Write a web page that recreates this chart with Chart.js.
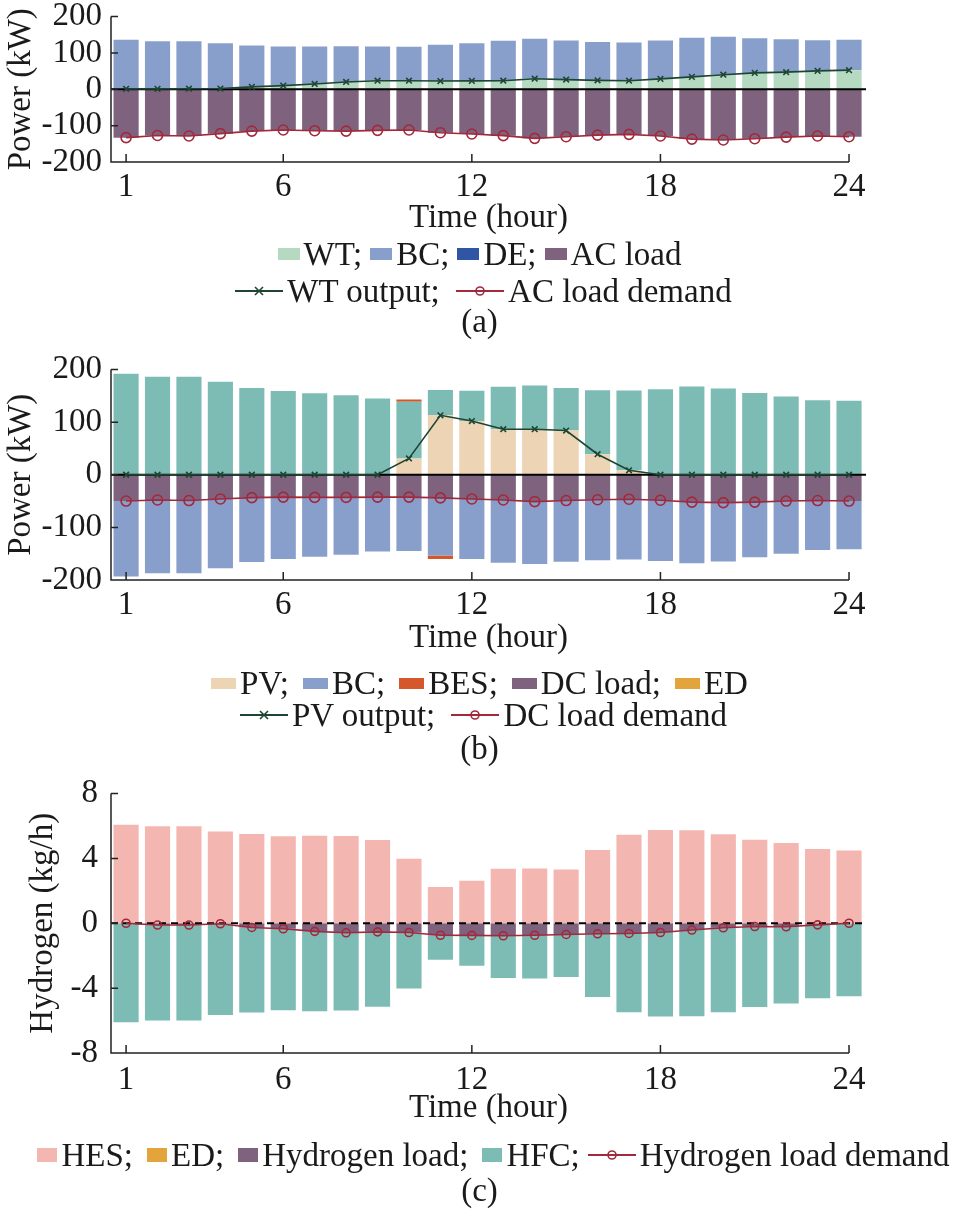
<!DOCTYPE html>
<html>
<head>
<meta charset="utf-8">
<script src="https://cdn.jsdelivr.net/npm/chart.js@4.4.1/dist/chart.umd.min.js"></script>
<style>
  body { margin: 0; width: 959px; height: 1218px; position: relative; overflow: hidden; background: #fff;
         font-family: "Liberation Serif", "Times New Roman", serif; color: #1a1a1a; }
  canvas { position: absolute; left: 0; }
  .leg { position: absolute; left: 0; width: 959px; text-align: center; font-size: 33px; line-height: 36px; white-space: nowrap; }
  .sw { display: inline-block; vertical-align: middle; position: relative; top: -3px; margin-right: 4px; }
  .ln { display: inline-block; vertical-align: middle; position: relative; top: -3px; margin: 0 4px 0 8px; }
</style>
</head>
<body>
<canvas id="chartA" width="959" height="249" style="top:-9px"></canvas>
<div class="leg" id="legA1" style="top:236px"></div>
<div class="leg" id="legA2" style="top:273px"></div>
<div class="leg" style="top:303px">(a)</div>

<canvas id="chartB" width="959" height="316" style="top:344px"></canvas>
<div class="leg" id="legB1" style="top:665px"></div>
<div class="leg" id="legB2" style="top:697px"></div>
<div class="leg" style="top:730px">(b)</div>

<canvas id="chartC" width="959" height="366" style="top:764px"></canvas>
<div class="leg" id="legC1" style="top:1137px;left:14px"></div>
<div class="leg" style="top:1172px">(c)</div>

<script>
const hours = [1, 2, 3, 4, 5, 6, 7, 8, 9, 10, 11, 12, 13, 14, 15, 16, 17, 18, 19, 20, 21, 22, 23, 24];
const xTicks = [1, 6, 12, 18, 24];

// (a) AC bus, kW
const wtPower = [1, 1, 1.5, 2, 6.5, 10, 14.5, 20, 23.5, 23.5, 22.5, 23, 23.5, 29, 26.5, 24.5, 23.5, 28.5, 34, 40, 45, 47, 50.5, 52.5];
const bcAc = [135, 131, 130.5, 124.5, 113.5, 107.5, 103, 98.5, 94, 93, 99.5, 103.5, 109.5, 109.5, 107.5, 105.5, 105, 105.5, 107.5, 104, 95.5, 90.5, 84.5, 83.5];
const deAc = [0, 0, 0, 0, 0, 0, 0, 0, 0, 0, 0, 0, 0, 0, 0, 0, 0, 0, 0, 0, 0, 0, 0, 0];
const acDemand = [-133, -127, -128.5, -122, -115, -112, -114, -115, -113, -112, -119.5, -123, -127.5, -135, -130.5, -126, -124, -128.5, -137, -139.5, -136, -131.5, -128.5, -130.5];

// (b) DC bus, kW
const pvPower = [0, 0, 0, 0, 0, 0, 0, 0, 0, 31, 113, 102, 86.5, 86.5, 84, 39, 8.5, 0, 0, 0, 0, 0, 0, 0];
const hfcDc = [192, 186, 186, 176.5, 165, 159, 155, 151, 145, 107.5, 48, 57.5, 80.5, 83, 81, 121.5, 151.5, 162.5, 167.5, 164, 155.5, 148.5, 141.5, 140.5];
const besDc = [0, 0, 0, 0, 0, 0, 0, 0, 0, 4.5, -6.5, 0, 0, 0, 0, 0, 0, 0, 0, 0, 0, 0, 0, 0];
const dcDemand = [-50, -48, -49, -46, -43.5, -42.5, -43, -43, -42.5, -42.5, -44, -46, -48, -51, -49, -47.5, -46.5, -48.5, -52, -53, -52, -50, -49, -50];
const bcDc = [-143.5, -139, -138, -131.5, -122.5, -117.5, -113, -109, -103.5, -102.5, -109.5, -114, -119, -118.5, -116.5, -115, -114.5, -115.5, -116, -112, -105, -100, -94, -91.5];
const edDc = [0, 0, 0, 0, 0, 0, 0, 0, 0, 0, 0, 0, 0, 0, 0, 0, 0, 0, 0, 0, 0, 0, 0, 0];

// (c) hydrogen, kg/h
const hesH2 = [6.08, 5.98, 5.98, 5.65, 5.5, 5.36, 5.4, 5.38, 5.13, 3.98, 2.23, 2.62, 3.36, 3.38, 3.32, 4.52, 5.46, 5.75, 5.73, 5.48, 5.15, 4.95, 4.58, 4.48];
const edH2 = [0, 0, 0, 0, 0, 0, 0, 0, 0, 0, 0, 0, 0, 0, 0, 0, 0, 0, 0, 0, 0, 0, 0, 0];
const h2Demand = [0, -0.11, -0.11, -0.03, -0.26, -0.34, -0.5, -0.59, -0.53, -0.57, -0.74, -0.75, -0.77, -0.74, -0.69, -0.65, -0.63, -0.57, -0.42, -0.28, -0.2, -0.22, -0.1, 0];
const hfcH2 = [-6.1, -5.89, -5.89, -5.62, -5.24, -5.02, -4.92, -4.79, -4.62, -3.45, -1.51, -1.87, -2.61, -2.66, -2.63, -3.89, -4.85, -5.18, -5.31, -5.2, -4.97, -4.73, -4.52, -4.5];

const col = {
  wt: "#b5d9c1", bc: "#889fcb", de: "#2f55a4", load: "#7f627d",
  pv: "#ecd4b5", bes: "#d4582c", ed: "#e3a53b", hfc: "#7dbcb5", hes: "#f4b6b0",
  green: "#1d4533", red: "#a2293c"
};
const serif = "'Liberation Serif', 'Times New Roman', serif";
const ink = "#1a1a1a";

const pts = arr => hours.map((h, i) => ({ x: h, y: arr[i] }));

function bar(label, arr, color) {
  return { type: "bar", label: label, data: pts(arr), backgroundColor: color, borderWidth: 0,
           barPercentage: 1, categoryPercentage: 0.8, order: 1 };
}

function line(label, arr, color, marker, radius) {
  return { type: "line", label: label, data: pts(arr), stack: label, order: 0,
           borderColor: color, borderWidth: 1.6, tension: 0,
           pointStyle: marker, pointRadius: radius, pointBorderColor: color,
           pointBackgroundColor: "rgba(0,0,0,0)", pointBorderWidth: 1.6 };
}

function zeroLine(chart, opts) {
  const { ctx, chartArea, scales: { y } } = chart;
  const py = y.getPixelForValue(0);
  ctx.save();
  ctx.strokeStyle = "#000";
  ctx.lineWidth = 2;
  ctx.setLineDash(opts.dash || []);
  ctx.beginPath();
  ctx.moveTo(chartArea.left, py);
  ctx.lineTo(chartArea.right, py);
  ctx.stroke();
  ctx.restore();
}

// left + bottom spines with inward ticks, zero line under the lines
const frame = {
  id: "frame",
  beforeDatasetsDraw(chart) { chart.$zeroDone = false; },
  beforeDatasetDraw(chart, args, opts) {
    if (!chart.$zeroDone && args.meta.type === "line") {
      zeroLine(chart, opts);
      chart.$zeroDone = true;
    }
  },
  afterDatasetsDraw(chart, args, opts) {
    if (!chart.$zeroDone) zeroLine(chart, opts);
    const { ctx, chartArea, scales: { x, y } } = chart;
    ctx.save();
    ctx.strokeStyle = "#222";
    ctx.lineWidth = 1.5;
    ctx.beginPath();
    ctx.moveTo(chartArea.left, chartArea.top);
    ctx.lineTo(chartArea.left, chartArea.bottom);
    ctx.lineTo(x.getPixelForValue(xTicks[xTicks.length - 1]), chartArea.bottom);
    y.ticks.forEach(t => {
      const py = y.getPixelForValue(t.value);
      ctx.moveTo(chartArea.left, py);
      ctx.lineTo(chartArea.left + 7, py);
    });
    x.ticks.forEach(t => {
      const px = x.getPixelForValue(t.value);
      ctx.moveTo(px, chartArea.bottom);
      ctx.lineTo(px, chartArea.bottom - 8);
    });
    ctx.stroke();
    ctx.restore();
  }
};

function makeChart(id, datasets, s) {
  return new Chart(document.getElementById(id), {
    type: "bar",
    data: { datasets: datasets },
    plugins: [frame],
    options: {
      responsive: false,
      animation: false,
      layout: { padding: { top: 0, right: 93, left: 0, bottom: 0 } },
      plugins: { legend: { display: false }, tooltip: { enabled: false }, frame: { dash: s.dash } },
      scales: {
        x: {
          type: "linear", min: 0.52, max: 24.54, offset: false, stacked: true,
          grid: { display: false, drawTicks: false }, border: { display: false },
          afterBuildTicks: sc => { sc.ticks = xTicks.map(v => ({ value: v })); },
          afterFit: sc => { sc.height = s.xHeight; },
          ticks: { font: { family: serif, size: 33, lineHeight: 1 }, color: ink, padding: s.xPad, maxRotation: 0, autoSkip: false },
          title: { display: true, text: "Time (hour)", font: { family: serif, size: 33 }, color: ink, padding: { top: 0, bottom: 2 } }
        },
        y: {
          min: s.min, max: s.max, stacked: true,
          grid: { display: false, drawTicks: false }, border: { display: false },
          afterFit: sc => { sc.width = 111; },
          ticks: { stepSize: s.step, font: { family: serif, size: 33, lineHeight: 1 }, color: ink, padding: s.yPad },
          title: { display: true, text: s.title, font: { family: serif, size: 33 }, color: ink, padding: { top: s.titlePad, bottom: 0 } }
        }
      }
    }
  });
}

makeChart("chartA", [
  bar("WT", wtPower, col.wt),
  bar("BC", bcAc, col.bc),
  bar("DE", deAc, col.de),
  bar("AC load", acDemand, col.load),
  line("WT output", wtPower, col.green, "crossRot", 4),
  line("AC load demand", acDemand, col.red, "circle", 5)
], { xHeight: 78, xPad: 9, yPad: 9, min: -200, max: 200, step: 100, title: "Power (kW)", titlePad: 2, dash: [] });

makeChart("chartB", [
  bar("PV", pvPower, col.pv),
  bar("HFC", hfcDc, col.hfc),
  bar("DC load", dcDemand, col.load),
  bar("BC", bcDc, col.bc),
  bar("BES", besDc, col.bes),
  bar("ED", edDc, col.ed),
  line("PV output", pvPower, col.green, "crossRot", 4),
  line("DC load demand", dcDemand, col.red, "circle", 5)
], { xHeight: 80, xPad: 9, yPad: 9, min: -200, max: 200, step: 100, title: "Power (kW)", titlePad: 2, dash: [] });

makeChart("chartC", [
  bar("HES", hesH2, col.hes),
  bar("ED", edH2, col.ed),
  bar("Hydrogen load", h2Demand, col.load),
  bar("HFC", hfcH2, col.hfc),
  line("Hydrogen load demand", h2Demand, col.red, "circle", 4)
], { xHeight: 77, xPad: 11, yPad: 13, min: -8, max: 8, step: 4, title: "Hydrogen (kg/h)", titlePad: 24, dash: [7, 5] });

// legends
function marker(color, kind) {
  const m = kind === "x"
    ? `<path d="M20 3 L28 11 M28 3 L20 11" stroke="${color}" stroke-width="1.6"/>`
    : `<circle cx="24" cy="7" r="4" fill="none" stroke="${color}" stroke-width="1.6"/>`;
  return `<svg class="ln" width="48" height="14"><line x1="0" y1="7" x2="48" y2="7" stroke="${color}" stroke-width="1.8"/>${m}</svg>`;
}
function box(color, w, h, gap) {
  return `<span class="sw" style="background:${color};width:${w}px;height:${h}px;margin-left:${gap}px"></span>`;
}

document.getElementById("legA1").innerHTML =
  `${box(col.wt, 22, 12, 0)}WT;${box(col.bc, 22, 12, 8)}BC;${box(col.de, 22, 12, 8)}DE;${box(col.load, 22, 12, 8)}AC load`;
document.getElementById("legA2").innerHTML =
  `${marker(col.green, "x")}WT output; ${marker(col.red, "o")}AC load demand`;
document.getElementById("legB1").innerHTML =
  `${box(col.pv, 25, 11, 0)}PV;${box(col.bc, 25, 11, 14)}BC;${box(col.bes, 25, 11, 14)}BES;${box(col.load, 25, 11, 14)}DC load;${box(col.ed, 25, 11, 14)}ED`;
document.getElementById("legB2").innerHTML =
  `${marker(col.green, "x")}PV output; ${marker(col.red, "o")}DC load demand`;
document.getElementById("legC1").innerHTML =
  `${box(col.hes, 20, 14, 0)}HES;${box(col.ed, 20, 14, 14)}ED;${box(col.load, 20, 14, 14)}Hydrogen load;${box(col.hfc, 20, 14, 14)}HFC;${marker(col.red, "o")}Hydrogen load demand`;
</script>
</body>
</html>
